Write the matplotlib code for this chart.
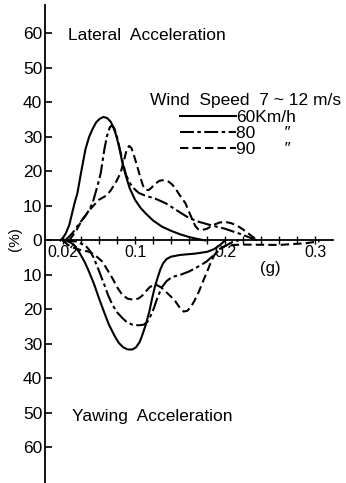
import numpy as np
import matplotlib
matplotlib.use("Agg")
import matplotlib.pyplot as plt

plt.rcParams['font.family'] = ['Liberation Sans', 'DejaVu Sans']
plt.rcParams['lines.scale_dashes'] = False

# Lateral acceleration distribution (% vs g), positive side
lat_60_g = [0.017, 0.020, 0.023, 0.027, 0.030, 0.033, 0.036, 0.040, 0.045, 0.049, 0.053,
            0.057, 0.061, 0.065, 0.069, 0.073, 0.076, 0.079, 0.082, 0.086, 0.090, 0.094,
            0.100, 0.106, 0.112, 0.120, 0.130, 0.140, 0.150, 0.160, 0.170, 0.178]
lat_60_v = [0.0, 0.8, 2.0, 4.5, 7.8, 11.0, 13.7, 19.6, 26.5, 30.0, 32.4,
            34.3, 35.3, 35.8, 35.5, 34.4, 32.8, 30.5, 27.5, 22.5, 18.6, 15.2,
            11.8, 9.5, 7.8, 5.8, 4.0, 2.8, 1.8, 1.0, 0.4, 0.0]

lat_80_g = [0.022, 0.026, 0.030, 0.034, 0.038, 0.044, 0.049, 0.053, 0.056, 0.059, 0.062,
            0.066, 0.069, 0.072, 0.074, 0.077, 0.080, 0.084, 0.087, 0.090, 0.094, 0.097,
            0.104, 0.113, 0.121, 0.134, 0.149, 0.160, 0.171, 0.186, 0.200, 0.218, 0.236]
lat_80_v = [0.0, 0.9, 2.0, 3.3, 4.9, 6.8, 8.8, 11.0, 13.7, 16.5, 19.6,
            26.5, 30.4, 32.8, 33.3, 32.5, 30.0, 25.5, 22.0, 19.0, 16.8, 15.5,
            13.8, 12.8, 12.3, 10.8, 8.3, 6.5, 5.4, 4.3, 3.4, 1.8, 0.0]

lat_90_g = [0.027, 0.031, 0.035, 0.041, 0.050, 0.060, 0.068, 0.073, 0.079, 0.084, 0.088,
            0.091, 0.0935, 0.096, 0.099, 0.103, 0.106, 0.109, 0.112, 0.115, 0.118, 0.122,
            0.127, 0.132, 0.137, 0.141, 0.145, 0.150, 0.156, 0.160, 0.164, 0.167, 0.170,
            0.174, 0.180, 0.187, 0.194, 0.200, 0.207, 0.214, 0.220, 0.228, 0.236]
lat_90_v = [0.0, 1.5, 3.0, 5.9, 9.0, 11.8, 13.0, 14.5, 17.0, 19.6, 23.5,
            26.5, 27.4, 26.8, 24.5, 21.0, 18.2, 15.8, 14.7, 14.6, 15.2, 16.3,
            17.3, 17.5, 17.1, 16.3, 15.0, 13.0, 10.8, 8.3, 5.9, 4.2, 3.3,
            3.0, 3.4, 4.5, 5.2, 5.4, 5.0, 4.2, 3.2, 1.6, 0.0]

# Yawing acceleration distribution (% vs g), drawn below the axis
yaw_60_g = [0.020, 0.026, 0.032, 0.038, 0.044, 0.049, 0.055, 0.060, 0.066, 0.071, 0.077,
            0.082, 0.087, 0.092, 0.097, 0.101, 0.105, 0.108, 0.112, 0.116, 0.119, 0.122,
            0.125, 0.128, 0.131, 0.135, 0.140, 0.150, 0.167, 0.180, 0.188, 0.195, 0.200]
yaw_60_v = [0.0, -0.3, -1.2, -3.4, -6.2, -9.1, -13.0, -16.8, -21.0, -24.4, -27.5,
            -29.7, -31.0, -31.6, -31.6, -31.0, -29.5, -27.5, -24.4, -20.5, -16.8, -13.5,
            -10.9, -8.5, -6.7, -5.4, -4.7, -4.2, -3.8, -3.3, -2.5, -1.2, 0.0]

yaw_80_g = [0.020, 0.035, 0.045, 0.050, 0.054, 0.058, 0.062, 0.066, 0.070, 0.075, 0.080,
            0.086, 0.091, 0.097, 0.104, 0.110, 0.114, 0.118, 0.121, 0.125, 0.130, 0.135,
            0.141, 0.150, 0.160, 0.170, 0.179, 0.186, 0.193, 0.200, 0.208, 0.215]
yaw_80_v = [0.0, -0.3, -1.5, -3.0, -5.0, -7.5, -10.2, -12.9, -15.8, -18.7, -20.8,
            -22.5, -23.7, -24.4, -24.6, -24.4, -23.5, -21.5, -19.6, -16.5, -13.5, -11.8,
            -10.6, -10.0, -9.0, -7.6, -6.2, -4.6, -2.9, -1.6, -0.5, 0.0]

yaw_90_g = [0.020, 0.025, 0.030, 0.040, 0.048, 0.053, 0.058, 0.064, 0.069, 0.075, 0.080,
            0.086, 0.092, 0.099, 0.104, 0.108, 0.112, 0.116, 0.120, 0.124, 0.129, 0.134,
            0.140, 0.145, 0.150, 0.154, 0.158, 0.162, 0.166, 0.171, 0.175, 0.180, 0.184,
            0.188, 0.193, 0.200, 0.210, 0.220, 0.260, 0.290, 0.305]
yaw_90_v = [0.0, -1.2, -2.0, -2.8, -3.2, -3.8, -4.8, -6.2, -8.4, -11.0, -13.5,
            -15.8, -16.9, -17.2, -16.8, -16.0, -14.8, -13.6, -13.0, -12.9, -13.6, -14.8,
            -16.3, -17.7, -19.6, -20.6, -20.4, -19.3, -17.5, -14.8, -12.2, -9.1, -6.5,
            -4.3, -2.6, -1.6, -1.3, -1.2, -1.3, -0.8, -0.2]

speed_labels = ["60Km/h", "80", "90"]
y_ticks = [60, 50, 40, 30, 20, 10, 0, -10, -20, -30, -40, -50, -60]
x_ticks = [0.02, 0.04, 0.06, 0.08, 0.10, 0.12, 0.14, 0.16, 0.18, 0.20, 0.22, 0.24, 0.26, 0.28, 0.30]
x_tick_labels = ["0.02", "", "", "", "0.1", "", "", "", "", "0.2", "", "", "", "", "0.3"]

W, H = 346, 483
fig = plt.figure(figsize=(W / 100, H / 100), dpi=100)
ax = fig.add_axes([45 / W, 0, 1 - 45 / W, 1])
ax.set_xlim(0, 0.3344)
ax.set_ylim(-70.3, 69.7)

lw = 1.5
styles = [dict(ls='-'),
          dict(ls=(0, (10, 2.5, 2.5, 2.5))),
          dict(ls=(0, (6, 3)))]

for (g, v), st in zip([(lat_60_g, lat_60_v), (lat_80_g, lat_80_v), (lat_90_g, lat_90_v)], styles):
    ax.plot(g, v, color='black', lw=lw, solid_joinstyle='round', dash_joinstyle='round', **st)
handles = []
for (g, v), st, lab in zip([(yaw_60_g, yaw_60_v), (yaw_80_g, yaw_80_v), (yaw_90_g, yaw_90_v)],
                           styles, speed_labels):
    h, = ax.plot(g, v, color='black', lw=lw, solid_joinstyle='round', dash_joinstyle='round', **st)
    handles.append(h)

# axes styling: vertical axis on the left, horizontal axis through zero
for s in ('top', 'right'):
    ax.spines[s].set_visible(False)
ax.spines['left'].set_linewidth(1.3)
ax.spines['left'].set_bounds(-70.3, 68.3)
ax.spines['bottom'].set_position(('data', 0))
ax.spines['bottom'].set_linewidth(1.3)
ax.spines['bottom'].set_bounds(0, 0.32)

ax.set_yticks(y_ticks)
ax.set_yticklabels([str(abs(t)) for t in y_ticks])
ax.tick_params(axis='y', direction='in', length=5, width=1.2, pad=2, labelsize=12.5)
ax.set_xticks(x_ticks)
ax.set_xticklabels(x_tick_labels)
ax.tick_params(axis='x', direction='inout', length=6, width=1.0, pad=0, labelsize=11.5)

def px(x, y):
    return x / W, 1 - y / H

fig.text(*px(68, 35), "Lateral  Acceleration", fontsize=12.5, ha='left', va='center')
fig.text(*px(72, 417), "Yawing  Acceleration", fontsize=12.5, ha='left', va='center')
fig.text(*px(150, 100), "Wind  Speed  7 ~ 12 m/s", fontsize=12.5, ha='left', va='center')
fig.text(*px(270, 268), "(g)", fontsize=12, ha='center', va='center')
fig.text(*px(15, 239), "(%)", fontsize=11, ha='center', va='center', rotation=90)

ax.legend(handles, [speed_labels[0], speed_labels[1] + "      \u2033", speed_labels[2] + "      \u2033"],
          loc='upper left', bbox_to_anchor=px(180, 110), bbox_transform=fig.transFigure,
          frameon=False, borderpad=0, handlelength=3.2, handletextpad=0.05,
          labelspacing=0.05, fontsize=12.5, borderaxespad=0)

fig.savefig("out.png", dpi=100, facecolor='white')
